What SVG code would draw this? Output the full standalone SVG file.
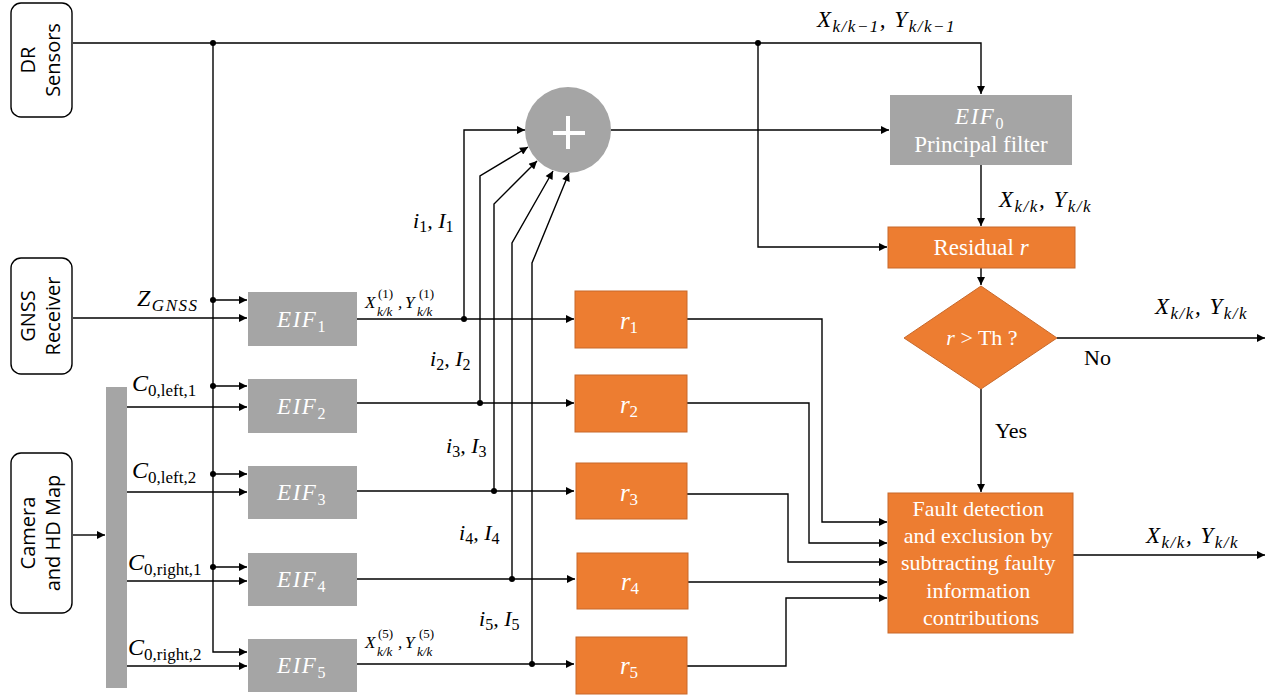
<svg xmlns="http://www.w3.org/2000/svg" width="1274" height="696" viewBox="0 0 1274 696">
<style>
.ln{fill:none;stroke:#000;stroke-width:1.4}
.ar{marker-end:url(#ah)}
.gray{fill:#A5A5A5}
.or{fill:#ED7D31;stroke:#C8692B;stroke-width:1}
.src{fill:#fff;stroke:#000;stroke-width:1.4}
.m{font-family:'Liberation Serif','DejaVu Serif',serif;font-style:italic;fill:#000}
.t{font-family:'Liberation Serif','DejaVu Serif',serif;fill:#000}
.w{fill:#fff}
.sans{font-family:'Open Sans',sans-serif;font-size:20px;fill:#000}
.up{font-style:normal}
.ls{letter-spacing:1.5px}
</style>
<defs>
<marker id="ah" viewBox="0 0 10 10" refX="10" refY="5" markerWidth="10" markerHeight="8" markerUnits="userSpaceOnUse" orient="auto">
<path d="M0,0 L10,5 L0,10 z" fill="#000"/>
</marker>
</defs>
<rect width="1274" height="696" fill="#fff"/>

<g id="connectors">
<path class="ln ar" d="M73,43 H981 V94"/>
<path class="ln ar" d="M213,43 V652 H247"/>
<path class="ln ar" d="M213,300 H247"/>
<path class="ln ar" d="M213,386 H247"/>
<path class="ln ar" d="M213,474 H247"/>
<path class="ln ar" d="M213,567 H247"/>
<path class="ln ar" d="M73,318 H247"/>
<path class="ln ar" d="M127,407 H247"/>
<path class="ln ar" d="M127,492 H247"/>
<path class="ln ar" d="M127,581 H247"/>
<path class="ln ar" d="M127,666 H247"/>
<path class="ln ar" d="M73,535 H105"/>
<path class="ln ar" d="M357,319 H574"/>
<path class="ln ar" d="M357,403 H574"/>
<path class="ln ar" d="M357,491 H574"/>
<path class="ln ar" d="M357,579 H575"/>
<path class="ln ar" d="M357,664 H574"/>
<path class="ln ar" d="M464,319 V130 H525"/>
<path class="ln ar" d="M480,403 V176 L528,147"/>
<path class="ln ar" d="M494,491 V204 L537,161"/>
<path class="ln ar" d="M512,579 V243 L553,171"/>
<path class="ln ar" d="M532,664 V263 L569,173"/>
<path class="ln ar" d="M611,130 H889"/>
<path class="ln ar" d="M758,43 V247 H887"/>
<path class="ln ar" d="M981,165 V226"/>
<path class="ln ar" d="M981,268 V285"/>
<path class="ln ar" d="M1057,338 H1265"/>
<path class="ln ar" d="M981,389 V492"/>
<path class="ln ar" d="M687,319 H822 V522 H887"/>
<path class="ln ar" d="M687,403 H809 V543 H887"/>
<path class="ln ar" d="M687,494 H788 V562 H887"/>
<path class="ln ar" d="M688,582 H887"/>
<path class="ln ar" d="M687,666 H786 V598 H887"/>
<path class="ln ar" d="M1073,555 H1265"/>
<g fill="#000">
<circle cx="213" cy="43" r="3"/>
<circle cx="758" cy="43" r="3"/>
<circle cx="213" cy="300" r="3"/>
<circle cx="213" cy="386" r="3"/>
<circle cx="213" cy="474" r="3"/>
<circle cx="213" cy="567" r="3"/>
<circle cx="464" cy="319" r="3"/>
<circle cx="480" cy="403" r="3"/>
<circle cx="494" cy="491" r="3"/>
<circle cx="512" cy="579" r="3"/>
<circle cx="532" cy="664" r="3"/>
</g>
</g>

<g id="dr-sensors">
<rect class="src" x="11" y="3" width="61" height="114" rx="10"/>
<g transform="translate(42,60) rotate(-90)">
<text class="sans" x="0" y="-7" text-anchor="middle">DR</text>
<text class="sans" x="0" y="18" text-anchor="middle">Sensors</text>
</g>
</g>
<g id="gnss">
<rect class="src" x="11" y="258" width="61" height="116" rx="10"/>
<g transform="translate(42,316) rotate(-90)">
<text class="sans" x="0" y="-7" text-anchor="middle">GNSS</text>
<text class="sans" x="0" y="18" text-anchor="middle">Receiver</text>
</g>
</g>
<g id="camera">
<rect class="src" x="11" y="453" width="61" height="160" rx="10"/>
<g transform="translate(42,533) rotate(-90)">
<text class="sans" x="0" y="-7" text-anchor="middle">Camera</text>
<text class="sans" x="0" y="18" text-anchor="middle">and HD Map</text>
</g>
</g>
<g id="bar"><rect class="gray" x="106" y="387" width="21" height="301"/></g>

<g id="eif1"><rect class="gray" x="248" y="292" width="109" height="54"/>
<text class="m w ls" x="302" y="327" font-size="23" text-anchor="middle">EIF<tspan font-size="16" dy="5" class="up">1</tspan></text></g>
<g id="eif2"><rect class="gray" x="248" y="379" width="109" height="54"/>
<text class="m w ls" x="302" y="414" font-size="23" text-anchor="middle">EIF<tspan font-size="16" dy="5" class="up">2</tspan></text></g>
<g id="eif3"><rect class="gray" x="248" y="466" width="109" height="53"/>
<text class="m w ls" x="302" y="500" font-size="23" text-anchor="middle">EIF<tspan font-size="16" dy="5" class="up">3</tspan></text></g>
<g id="eif4"><rect class="gray" x="248" y="553" width="109" height="53"/>
<text class="m w ls" x="302" y="587" font-size="23" text-anchor="middle">EIF<tspan font-size="16" dy="5" class="up">4</tspan></text></g>
<g id="eif5"><rect class="gray" x="248" y="639" width="109" height="53"/>
<text class="m w ls" x="302" y="673" font-size="23" text-anchor="middle">EIF<tspan font-size="16" dy="5" class="up">5</tspan></text></g>

<g id="sum">
<circle class="gray" cx="568" cy="130" r="43"/>
<path d="M553,133 H585 M568,116 V149" stroke="#fff" stroke-width="4" fill="none"/>
</g>

<g id="eif0"><rect class="gray" x="890" y="95" width="182" height="70"/>
<text class="m w ls" x="980" y="124" font-size="23" text-anchor="middle">EIF<tspan font-size="16" dy="5" class="up">0</tspan></text>
<text class="t w" x="981" y="152" font-size="23" text-anchor="middle">Principal filter</text></g>

<g id="residual"><rect class="or" x="888" y="227" width="187" height="41"/>
<text class="t w" x="981" y="255" font-size="23" text-anchor="middle">Residual <tspan font-style="italic">r</tspan></text></g>

<g id="decision"><path class="or" d="M981,286 L1057,338 L981,389 L904,338 Z"/>
<text class="t w" x="982" y="345" font-size="22" text-anchor="middle"><tspan font-style="italic">r</tspan> &gt; Th ?</text></g>

<g id="r1"><rect class="or" x="575" y="291" width="112" height="57"/>
<text class="m w" x="629" y="329" font-size="25" text-anchor="middle">r<tspan font-size="17" dy="4" class="up">1</tspan></text></g>
<g id="r2"><rect class="or" x="575" y="375" width="112" height="57"/>
<text class="m w" x="629" y="413" font-size="25" text-anchor="middle">r<tspan font-size="17" dy="4" class="up">2</tspan></text></g>
<g id="r3"><rect class="or" x="576" y="463" width="111" height="56"/>
<text class="m w" x="629" y="501" font-size="25" text-anchor="middle">r<tspan font-size="17" dy="4" class="up">3</tspan></text></g>
<g id="r4"><rect class="or" x="577" y="553" width="111" height="56"/>
<text class="m w" x="630" y="590" font-size="25" text-anchor="middle">r<tspan font-size="17" dy="4" class="up">4</tspan></text></g>
<g id="r5"><rect class="or" x="576" y="637" width="111" height="57"/>
<text class="m w" x="629" y="674" font-size="25" text-anchor="middle">r<tspan font-size="17" dy="4" class="up">5</tspan></text></g>

<g id="fault"><rect class="or" x="888" y="493" width="185" height="140"/>
<text class="t w" font-size="22" text-anchor="middle">
<tspan x="981" y="516">Fault detection</tspan>
<tspan x="981" y="543">and exclusion by</tspan>
<tspan x="981" y="570">subtracting faulty</tspan>
<tspan x="981" y="598">information</tspan>
<tspan x="981" y="625">contributions</tspan>
</text></g>

<g id="labels">
<text class="m ls" x="817" y="27" font-size="23">X<tspan font-size="17" dy="5">k/k−1</tspan><tspan dy="-5">, Y</tspan><tspan font-size="17" dy="5">k/k−1</tspan></text>
<text class="m ls" x="999" y="207" font-size="23">X<tspan font-size="17" dy="5">k/k</tspan><tspan dy="-5">, Y</tspan><tspan font-size="17" dy="5">k/k</tspan></text>
<text class="m ls" x="1155" y="314" font-size="23">X<tspan font-size="17" dy="5">k/k</tspan><tspan dy="-5">, Y</tspan><tspan font-size="17" dy="5">k/k</tspan></text>
<text class="m ls" x="1146" y="543" font-size="23">X<tspan font-size="17" dy="5">k/k</tspan><tspan dy="-5">, Y</tspan><tspan font-size="17" dy="5">k/k</tspan></text>
<text class="t" x="1084" y="365" font-size="22">No</text>
<text class="t" x="995" y="438" font-size="22">Yes</text>
<text class="m ls" x="137" y="306" font-size="24">Z<tspan font-size="17" dy="5">GNSS</tspan></text>
<text class="m" x="132" y="391" font-size="24">C<tspan font-size="17" dy="5" class="up">0,left,1</tspan></text>
<text class="m" x="132" y="478" font-size="24">C<tspan font-size="17" dy="5" class="up">0,left,2</tspan></text>
<text class="m" x="128" y="570" font-size="24">C<tspan font-size="17" dy="5" class="up">0,right,1</tspan></text>
<text class="m" x="128" y="655" font-size="24">C<tspan font-size="17" dy="5" class="up">0,right,2</tspan></text>
<text class="m" x="413" y="228" font-size="22">i<tspan font-size="16" dy="4" class="up">1</tspan><tspan dy="-4">, I</tspan><tspan font-size="16" dy="4" class="up">1</tspan></text>
<text class="m" x="430" y="366" font-size="22">i<tspan font-size="16" dy="4" class="up">2</tspan><tspan dy="-4">, I</tspan><tspan font-size="16" dy="4" class="up">2</tspan></text>
<text class="m" x="446" y="453" font-size="22">i<tspan font-size="16" dy="4" class="up">3</tspan><tspan dy="-4">, I</tspan><tspan font-size="16" dy="4" class="up">3</tspan></text>
<text class="m" x="459" y="540" font-size="22">i<tspan font-size="16" dy="4" class="up">4</tspan><tspan dy="-4">, I</tspan><tspan font-size="16" dy="4" class="up">4</tspan></text>
<text class="m" x="479" y="626" font-size="22">i<tspan font-size="16" dy="4" class="up">5</tspan><tspan dy="-4">, I</tspan><tspan font-size="16" dy="4" class="up">5</tspan></text>
<g class="m" font-size="17">
<text x="365" y="308">X</text>
<text x="378" y="298" font-size="13" class="up">(1)</text>
<text x="377" y="316" font-size="13">k/k</text>
<text x="398" y="308">,</text>
<text x="405" y="308">Y</text>
<text x="419" y="298" font-size="13" class="up">(1)</text>
<text x="417" y="316" font-size="13">k/k</text>
<text x="365" y="648">X</text>
<text x="378" y="638" font-size="13" class="up">(5)</text>
<text x="377" y="656" font-size="13">k/k</text>
<text x="398" y="648">,</text>
<text x="405" y="648">Y</text>
<text x="419" y="638" font-size="13" class="up">(5)</text>
<text x="417" y="656" font-size="13">k/k</text>
</g>
</g>
</svg>
